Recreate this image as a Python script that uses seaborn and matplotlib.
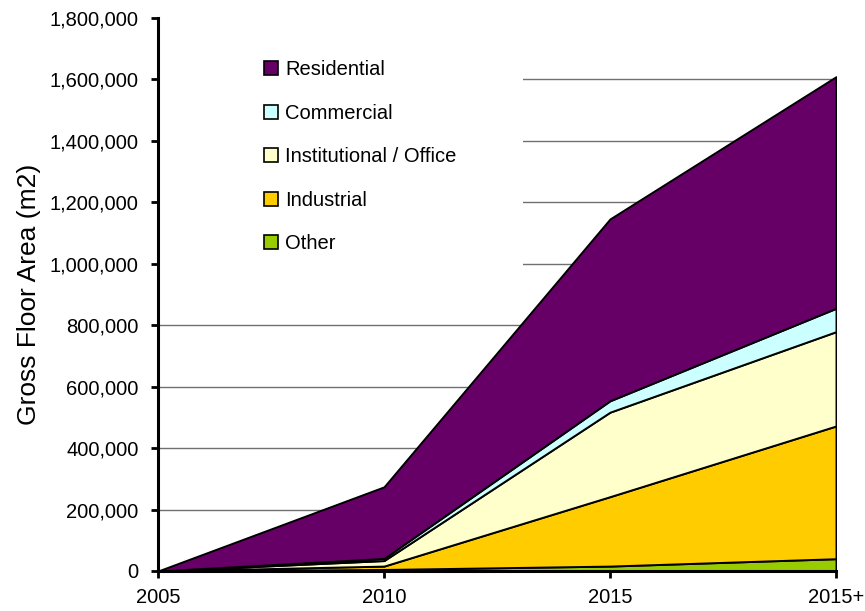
import matplotlib
matplotlib.use("Agg")
import matplotlib.pyplot as plt
from matplotlib.patches import Rectangle
from matplotlib.ticker import FuncFormatter
import numpy as np
import seaborn as sns

# Gross floor area by land use (m2)
periods = ["2005", "2010", "2015", "2015+"]
other = [0, 5000, 16000, 40000]
industrial = [0, 11000, 226000, 432000]
institutional = [0, 18000, 275000, 307000]
commercial = [0, 7000, 37000, 76000]
residential = [0, 233000, 592000, 754000]

series_names = ["Other", "Industrial", "Institutional / Office", "Commercial", "Residential"]
series_colors = ["#99CC00", "#FFCC00", "#FFFFCC", "#CCFFFF", "#660066"]
y_ticks = list(range(0, 1800001, 200000))

sns.set_theme(style="white")
plt.rcParams["font.family"] = ["Liberation Sans", "DejaVu Sans"]
plt.rcParams["text.color"] = "black"

fig = plt.figure(figsize=(8.65, 6.11), dpi=100)
ax = fig.add_axes([158 / 865, 40 / 611, 678 / 865, 553 / 611])

x = np.arange(len(periods))
ax.stackplot(x, other, industrial, institutional, commercial, residential,
             colors=series_colors, labels=series_names,
             edgecolor="black", linewidth=1.4, zorder=3)

ax.set_xlim(0, len(periods) - 1)
ax.set_ylim(0, 1800000)
ax.set_xticks(x)
ax.set_xticklabels(periods)
ax.set_yticks(y_ticks)
ax.yaxis.set_major_formatter(FuncFormatter(lambda v, p: f"{int(v):,}"))

# horizontal gridlines (not at the top of the range)
for v in y_ticks[1:-1]:
    ax.axhline(v, color="#707070", linewidth=1.0, zorder=1)

# white panel behind the legend
ax.add_patch(Rectangle((0.003, 0.48), 0.535, 0.52, transform=ax.transAxes,
                       facecolor="white", edgecolor="none", zorder=2))

for side in ["top", "right"]:
    ax.spines[side].set_visible(False)
for side in ["left", "bottom"]:
    ax.spines[side].set_color("black")
    ax.spines[side].set_linewidth(2.2)
    ax.spines[side].set_zorder(5)

ax.tick_params(axis="both", which="major", direction="out", length=5,
               width=2, color="black", labelsize=14.5, labelcolor="black",
               left=True, bottom=True)
ax.tick_params(axis="x", pad=7)
ax.tick_params(axis="y", pad=9)

ax.set_ylabel("Gross Floor Area (m2)", fontsize=19, color="black", labelpad=6)

handles, labels = ax.get_legend_handles_labels()
leg = ax.legend(handles[::-1], labels[::-1], loc="upper left",
                bbox_to_anchor=(0.142, 0.942), frameon=False,
                fontsize=14.5, handlelength=0.7, handleheight=0.7,
                handletextpad=0.35, labelspacing=1.22, borderpad=0,
                labelcolor="black")
for h in leg.legend_handles:
    h.set_edgecolor("black")
    h.set_linewidth(1.2)
leg.set_zorder(6)

fig.savefig("out.png", dpi=100)
